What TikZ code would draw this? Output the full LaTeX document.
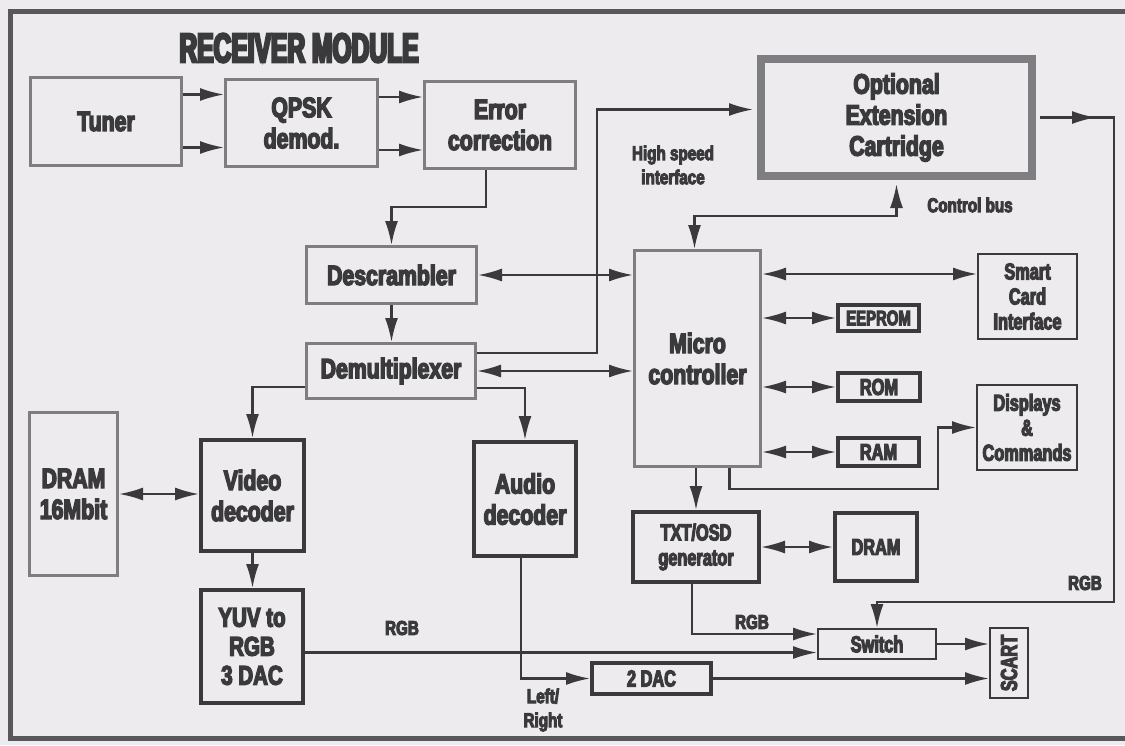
\documentclass[tikz,border=0pt]{standalone}
\usepackage{fontspec}
\usetikzlibrary{arrows.meta}
\newfontfamily\rcvfont[FakeStretch=0.76, BoldFeatures={FakeBold=5}]{Liberation Sans}
\newfontfamily\rcvsmallfont[FakeStretch=0.71, BoldFeatures={FakeBold=5}]{Liberation Sans}
\newfontfamily\rcvtitlefont[FakeStretch=0.6, BoldFeatures={FakeBold=6}]{Liberation Sans}
\definecolor{rcvInk}{HTML}{3A393C}
\definecolor{rcvGray}{HTML}{7E7D81}
\definecolor{rcvPaper}{HTML}{EDEBEE}
\definecolor{rcvFrame}{HTML}{58575A}
\tikzset{
  rcv box/.style={rectangle, inner sep=0pt, align=center, text=rcvInk, font=\rcvfont\bfseries\fontsize{28}{31}\selectfont},
  rcv dotted/.style={rcv box, draw=rcvGray, line width=3pt},
  rcv heavy/.style={rcv box, draw=rcvInk, line width=4pt},
  rcv thin/.style={rcv box, draw=rcvInk, line width=2pt},
  rcv cartridge/.style={rcv box, draw=rcvGray, line width=8pt},
  rcv small/.style={font=\rcvsmallfont\bfseries\fontsize{23}{25}\selectfont},
  rcv link/.style={draw=rcvInk, line width=2.2pt},
  rcv label/.style={align=center, text=rcvInk, font=\rcvfont\bfseries\fontsize{20}{24}\selectfont},
  rcv title/.style={text=rcvInk, font=\rcvtitlefont\bfseries\fontsize{41}{41}\selectfont},
  >={Latex[length=24pt,width=13pt]},
}

\begin{document}
\begin{tikzpicture}[x=1pt, y=-1pt]
  % Paper and the printed frame
  \useasboundingbox (0,0) rectangle (1125,745);
  \fill[rcvPaper] (0,0) rectangle (1125,745);
  \clip (0,0) rectangle (1125,745);
  \draw[rcvFrame, line width=5pt] (10,11) rectangle (1140,738);

  \node[rcv title] (title) at (299,48) {RECEIVER MODULE};

  % Front end chain
  \node[rcv dotted, minimum width=151pt, minimum height=88pt] (tuner) at (106,121.5) {Tuner};
  \node[rcv dotted, minimum width=152pt, minimum height=87pt] (qpsk) at (301.5,123) {QPSK\\demod.};
  \node[rcv dotted, minimum width=151pt, minimum height=87pt] (errcorr) at (500,125) {Error\\correction};
  \node[rcv cartridge, minimum width=271pt, minimum height=117pt] (optcart) at (896.5,117.5) {Optional\\Extension\\Cartridge};
  \node[rcv dotted, minimum width=170pt, minimum height=57pt] (descr) at (391.5,275) {Descrambler};
  \node[rcv dotted, minimum width=169pt, minimum height=55pt] (demux) at (391,371) {Demultiplexer};

  % Controller and its memories
  \node[rcv dotted, minimum width=126pt, minimum height=216pt] (micro) at (697.5,358.5) {Micro\\controller};
  \node[rcv thin, rcv small, minimum width=99pt, minimum height=85pt] (smart) at (1027.5,296.5) {Smart\\Card\\Interface};
  \node[rcv heavy, rcv small, minimum width=81pt, minimum height=26pt, font=\rcvsmallfont\bfseries\fontsize{21}{23}\selectfont] (eeprom) at (878.5,318) {EEPROM};
  \node[rcv heavy, rcv small, minimum width=82pt, minimum height=28pt] (rom) at (879,387) {ROM};
  \node[rcv heavy, rcv small, minimum width=81pt, minimum height=28pt] (ram) at (878.5,452) {RAM};
  \node[rcv thin, rcv small, minimum width=100pt, minimum height=85pt] (displays) at (1027,427.5) {Displays\\\&\\Commands};

  % Decoders and outputs
  \node[rcv dotted, minimum width=88pt, minimum height=163pt] (dram16) at (73.5,494) {DRAM\\16Mbit};
  \node[rcv heavy, minimum width=103pt, minimum height=111pt] (video) at (252.5,495.5) {Video\\decoder};
  \node[rcv heavy, minimum width=102pt, minimum height=113pt, font=\rcvfont\bfseries\fontsize{27}{29}\selectfont] (yuv) at (252,646.5) {YUV to\\RGB\\3 DAC};
  \node[rcv heavy, minimum width=102pt, minimum height=114pt] (audio) at (525,499) {Audio\\decoder};
  \node[rcv heavy, rcv small, minimum width=126pt, minimum height=70pt] (txtosd) at (696,547) {TXT/OSD\\generator};
  \node[rcv heavy, rcv small, minimum width=82pt, minimum height=68pt] (dram) at (876,547) {DRAM};
  \node[rcv thin, rcv small, minimum width=118pt, minimum height=30pt] (switch) at (877,644) {Switch};
  \node[rcv thin, rcv small, minimum width=38pt, minimum height=70pt] (scart) at (1009,663) {\rotatebox{90}{SCART}};
  \node[rcv heavy, rcv small, minimum width=119pt, minimum height=31pt] (dac) at (651.5,678.5) {2 DAC};

  % Connector labels
  \node[rcv label] (hsLabel) at (673,165) {High speed\\interface};
  \node[rcv label] (cbLabel) at (970,205) {Control bus};
  \node[rcv label] (rgbVideo) at (402,628) {RGB};
  \node[rcv label] (rgbOsd) at (752,622) {RGB};
  \node[rcv label] (rgbExt) at (1085,583) {RGB};
  \node[rcv label] (lrLabel) at (543,710) {Left/\\Right};

  % Two lines between the front end blocks
  \foreach \dy in {27,-26} {
    \draw[rcv link, ->] ([yshift=\dy pt]tuner.east) -- ([yshift=\dy pt]tuner.east -| qpsk.west);
  }
  \foreach \dy in {26,-27} {
    \draw[rcv link, ->] ([yshift=\dy pt]qpsk.east) -- ([yshift=\dy pt]qpsk.east -| errcorr.west);
  }
  \draw[rcv link, ->] ([xshift=-14pt]errcorr.south) -- ++(0,37) -| (descr.north);
  \draw[rcv link, ->] (descr.south) -- (descr.south |- demux.north);

  % Links to the controller
  \draw[rcv link, <->] (descr.east) -- (descr.east -| micro.west);
  \draw[rcv link, <->] (demux.east) -- (demux.east -| micro.west);
  \draw[rcv link, ->, shorten >=4pt] ([yshift=18pt]demux.east) -- ++(120,0) |- ([yshift=8pt]optcart.west);
  \draw[rcv link, <->, shorten >=4pt] ([xshift=-3pt]micro.north) -- ++(0,-33) -| (optcart.south);
  \draw[rcv link, <->] ([yshift=-25pt]micro.north east) -- ([yshift=-25pt]micro.north east -| smart.west);
  \foreach \mem in {eeprom,rom,ram} {
    \draw[rcv link, <->] (\mem.west -| micro.east) -- (\mem.west);
  }
  \draw[rcv link, ->] ([xshift=32pt]micro.south) -- ++(0,21) -| ([xshift=-38pt]displays.west) -- (displays.west);
  \draw[rcv link, ->] (txtosd.north |- micro.south) -- (txtosd.north);
  \draw[rcv link, <->] (txtosd.east) -- (dram.west);

  % Video and audio paths
  \draw[rcv link, ->] ([yshift=-16pt]demux.west) -| (video.north);
  \draw[rcv link, ->] ([yshift=-17pt]demux.east) -| (audio.north);
  \draw[rcv link, <->] (dram16.east) -- (dram16.east -| video.west);
  \draw[rcv link, ->] (video.south) -- (video.south |- yuv.north);
  \draw[rcv link, ->] ([yshift=-6pt]yuv.east) -- ([yshift=-6pt]yuv.east -| switch.west);
  \draw[rcv link, ->] ([xshift=-4pt]audio.south) |- (dac.west);
  \draw[rcv link, ->] (dac.east) -- (dac.east -| scart.west);

  % Outputs to the switch and SCART
  \draw[rcv link, ->] ([xshift=-4pt]txtosd.south) |- ([yshift=10pt]switch.west);
  \draw[rcv link, ->] (switch.east) -- (switch.east -| scart.west);
  \draw[rcv link, ->] ([xshift=4pt]optcart.east) -- ++(56,0);
  \draw[rcv link, ->] ([xshift=4pt]optcart.east) -- ++(74,0) |- ([yshift=26pt]switch.north) -- (switch.north);
\end{tikzpicture}
\end{document}
